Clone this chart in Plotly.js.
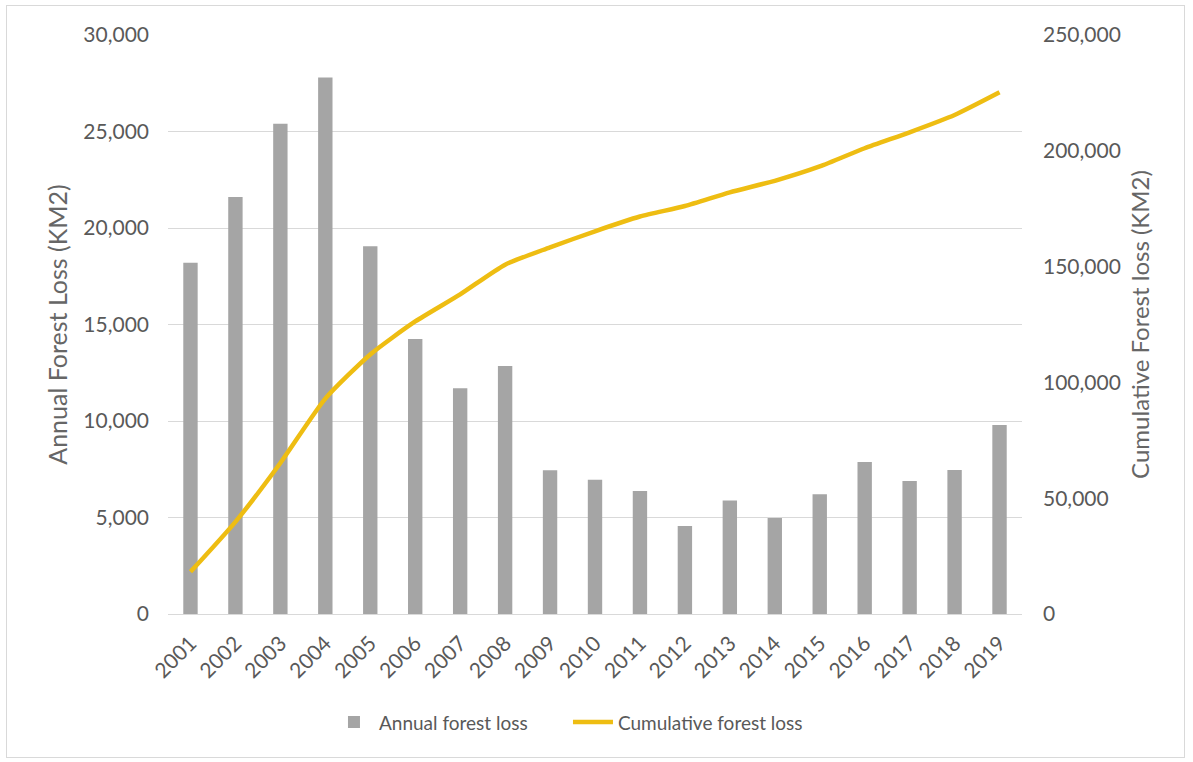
<!DOCTYPE html>
<html>
<head>
<meta charset="utf-8">
<script src="https://cdn.plot.ly/plotly-3.0.1.min.js"></script>
<style>
  html, body { margin: 0; padding: 0; background: #ffffff; }
  #frame { position: absolute; left: 6px; top: 5px; width: 1177px; height: 751px; border: 1px solid #d9d9d9; }
  #chart { position: absolute; left: 0; top: 0; width: 1193px; height: 762px; }
</style>
</head>
<body>
<div id="frame"></div>
<div id="chart"></div>
<script>
const years = ["2001","2002","2003","2004","2005","2006","2007","2008","2009","2010",
               "2011","2012","2013","2014","2015","2016","2017","2018","2019"];
const annualLoss = [18200, 21600, 25400, 27800, 19050, 14250, 11700, 12850, 7450, 6950,
                    6370, 4560, 5880, 4970, 6200, 7870, 6890, 7460, 9790];
const cumulativeLoss = [18200, 39800, 65200, 93000, 112050, 126300, 138000, 150850, 158300, 165250,
                        171620, 176180, 182060, 187030, 193230, 201100, 207990, 215450, 225240];

const fontFam = "Lato, 'Open Sans', sans-serif";
const txt = "#595959";

const traces = [
  {
    type: "bar", name: "Annual forest loss", x: years, y: annualLoss,
    marker: { color: "#a5a5a5" }, yaxis: "y"
  },
  {
    type: "scatter", mode: "lines", name: "Cumulative forest loss", x: years, y: cumulativeLoss,
    line: { color: "#eebd12", width: 4.5, shape: "spline", smoothing: 0.6 }, yaxis: "y2"
  }
];

const layout = {
  width: 1193, height: 762,
  margin: { l: 168, r: 171, t: 35, b: 148 },
  paper_bgcolor: "rgba(0,0,0,0)", plot_bgcolor: "rgba(0,0,0,0)",
  font: { family: fontFam, size: 20, color: txt },
  bargap: 0.68,
  showlegend: true,
  legend: {
    orientation: "h", x: 0.1885, xanchor: "left", y: -0.187, yanchor: "middle",
    font: { family: fontFam, size: 19, color: txt }, itemwidth: 40,
    entrywidth: 184, entrywidthmode: "pixels"
  },
  xaxis: {
    type: "category", tickangle: -45, showgrid: false, showline: false, ticks: "",
    ticklabelstandoff: 12,
    tickfont: { family: fontFam, size: 21, color: txt }
  },
  yaxis: {
    range: [0, 30000], dtick: 5000, tickformat: ",d", showgrid: true, gridcolor: "#d9d9d9",
    gridwidth: 1, zeroline: true, zerolinecolor: "#d9d9d9", showline: false, ticks: "",
    ticklabelstandoff: 18,
    tickfont: { family: fontFam, size: 21, color: txt },
    title: { text: "Annual Forest Loss (KM2)", standoff: 8, font: { family: fontFam, size: 25, color: "#666666" } }
  },
  yaxis2: {
    overlaying: "y", side: "right", range: [0, 250000], dtick: 50000, tickformat: ",d",
    showgrid: false, zeroline: false, showline: false, ticks: "",
    ticklabelstandoff: 20,
    tickfont: { family: fontFam, size: 21, color: txt },
    title: { text: "Cumulative Forest loss (KM2)", standoff: 12, font: { family: fontFam, size: 24, color: "#666666" } }
  }
};

Plotly.newPlot("chart", traces, layout, { displayModeBar: false, staticPlot: true });
</script>
</body>
</html>
